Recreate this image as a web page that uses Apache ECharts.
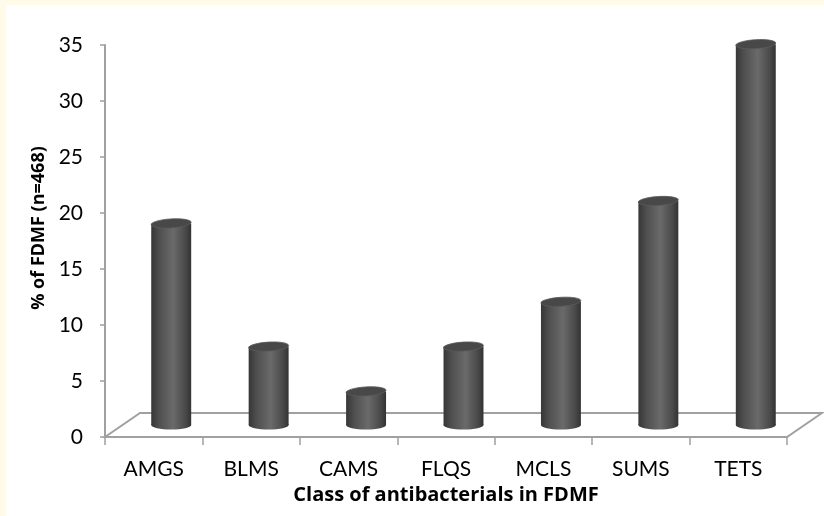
<!DOCTYPE html>
<html>
<head>
<meta charset="utf-8">
<script src="https://cdn.jsdelivr.net/npm/echarts@6/dist/echarts.min.js"></script>
<style>
html,body{margin:0;padding:0;background:#fffbe8;}
#chart{width:824px;height:516px;}
</style>
</head>
<body>
<div id="chart"></div>
<script>
const categories = ['AMGS', 'BLMS', 'CAMS', 'FLQS', 'MCLS', 'SUMS', 'TETS'];
const values = [18, 7, 3, 7, 11, 20, 34];
const yTicks = { min: 0, max: 35, interval: 5 };
const xTitle = 'Class of antibacterials in FDMF';
const yTitle = '% of FDMF (n=468)';

const DEPTH_X = 35, DEPTH_Y = 24;
const AXIS_COLOR = '#a0a0a0';
const FONT = 'Lato, "Open Sans", sans-serif';
const TITLE_FONT = '"Open Sans", Lato, sans-serif';

const chart = echarts.init(document.getElementById('chart'), null, { renderer: 'canvas' });

function renderFloor(params, api) {
  const cs = params.coordSys;
  const y0 = api.coord([0, 0])[1];
  const x0 = cs.x, x1 = cs.x + cs.width;
  return {
    type: 'polygon',
    shape: { points: [[x0, y0], [x0 + DEPTH_X, y0 - DEPTH_Y], [x1 + DEPTH_X, y0 - DEPTH_Y], [x1, y0]] },
    style: { fill: 'none', stroke: AXIS_COLOR, lineWidth: 2 },
    silent: true
  };
}

function renderBar(params, api) {
  const cat = api.value(0), v = api.value(1);
  const base = api.coord([cat, 0]);
  const top = api.coord([cat, v]);
  const bw = api.size([1, 0])[0] * 0.41;
  const cx = base[0] + DEPTH_X / 2;
  const yb = base[1] - DEPTH_Y / 2;
  const yt = top[1] - DEPTH_Y / 2;
  const rx = bw / 2, ry = 4.5;
  const grad = {
    type: 'linear', x: cx - rx, y: 0, x2: cx + rx, y2: 0, global: true,
    colorStops: [
      { offset: 0, color: '#363636' },
      { offset: 0.2, color: '#4f4f4f' },
      { offset: 0.55, color: '#6a6a6a' },
      { offset: 0.85, color: '#4a4a4a' },
      { offset: 1, color: '#333333' }
    ]
  };
  return {
    type: 'group',
    children: [
      { type: 'ellipse', shape: { cx: cx, cy: yb, rx: rx, ry: ry }, style: { fill: grad } },
      { type: 'rect', shape: { x: cx - rx, y: yt, width: bw, height: yb - yt }, style: { fill: grad } },
      { type: 'ellipse', shape: { cx: cx, cy: yt, rx: rx, ry: ry },
        rotation: 0.06, originX: cx, originY: yt,
        style: { fill: '#484848', stroke: '#5a5a5a', lineWidth: 0.8 } }
    ]
  };
}

const option = {
  backgroundColor: '#fffbe8',
  animation: false,
  graphic: [
    { type: 'rect', z: -10, silent: true, shape: { x: 6, y: 5, width: 830, height: 530 }, style: { fill: '#ffffff' } },
    { type: 'text', x: 39, y: 228, rotation: Math.PI / 2,
      style: { text: yTitle, font: 'bold 18px ' + TITLE_FONT, fill: '#000', align: 'center', verticalAlign: 'middle' } }
  ],
  grid: { left: 105, right: 37, top: 45, bottom: 79, containLabel: false },
  xAxis: {
    type: 'category',
    data: categories,
    boundaryGap: true,
    name: xTitle,
    nameLocation: 'middle',
    nameGap: 43,
    nameTextStyle: { fontFamily: TITLE_FONT, fontWeight: 'bold', fontSize: 20, color: '#000' },
    axisLine: { show: true, lineStyle: { color: AXIS_COLOR, width: 2 } },
    axisTick: { show: true, length: 8, interval: 0, lineStyle: { color: AXIS_COLOR, width: 1.5 } },
    axisLabel: { margin: 22, fontFamily: FONT, fontSize: 21, color: '#000', interval: 0 },
    splitLine: { show: false }
  },
  yAxis: {
    type: 'value',
    min: yTicks.min, max: yTicks.max, interval: yTicks.interval,
    axisLine: { show: true, lineStyle: { color: AXIS_COLOR, width: 2 } },
    axisTick: { show: true, length: 5, lineStyle: { color: AXIS_COLOR, width: 1.5 } },
    axisLabel: { margin: 22, fontFamily: FONT, fontSize: 21, color: '#000' },
    splitLine: { show: false }
  },
  series: [
    { type: 'custom', renderItem: renderFloor, data: [[0, 0]], z: 1, clip: false, silent: true },
    { type: 'custom', renderItem: renderBar, data: values.map((v, i) => [i, v]), z: 3, clip: false,
      encode: { x: 0, y: 1 } }
  ]
};
chart.setOption(option);
</script>
</body>
</html>
